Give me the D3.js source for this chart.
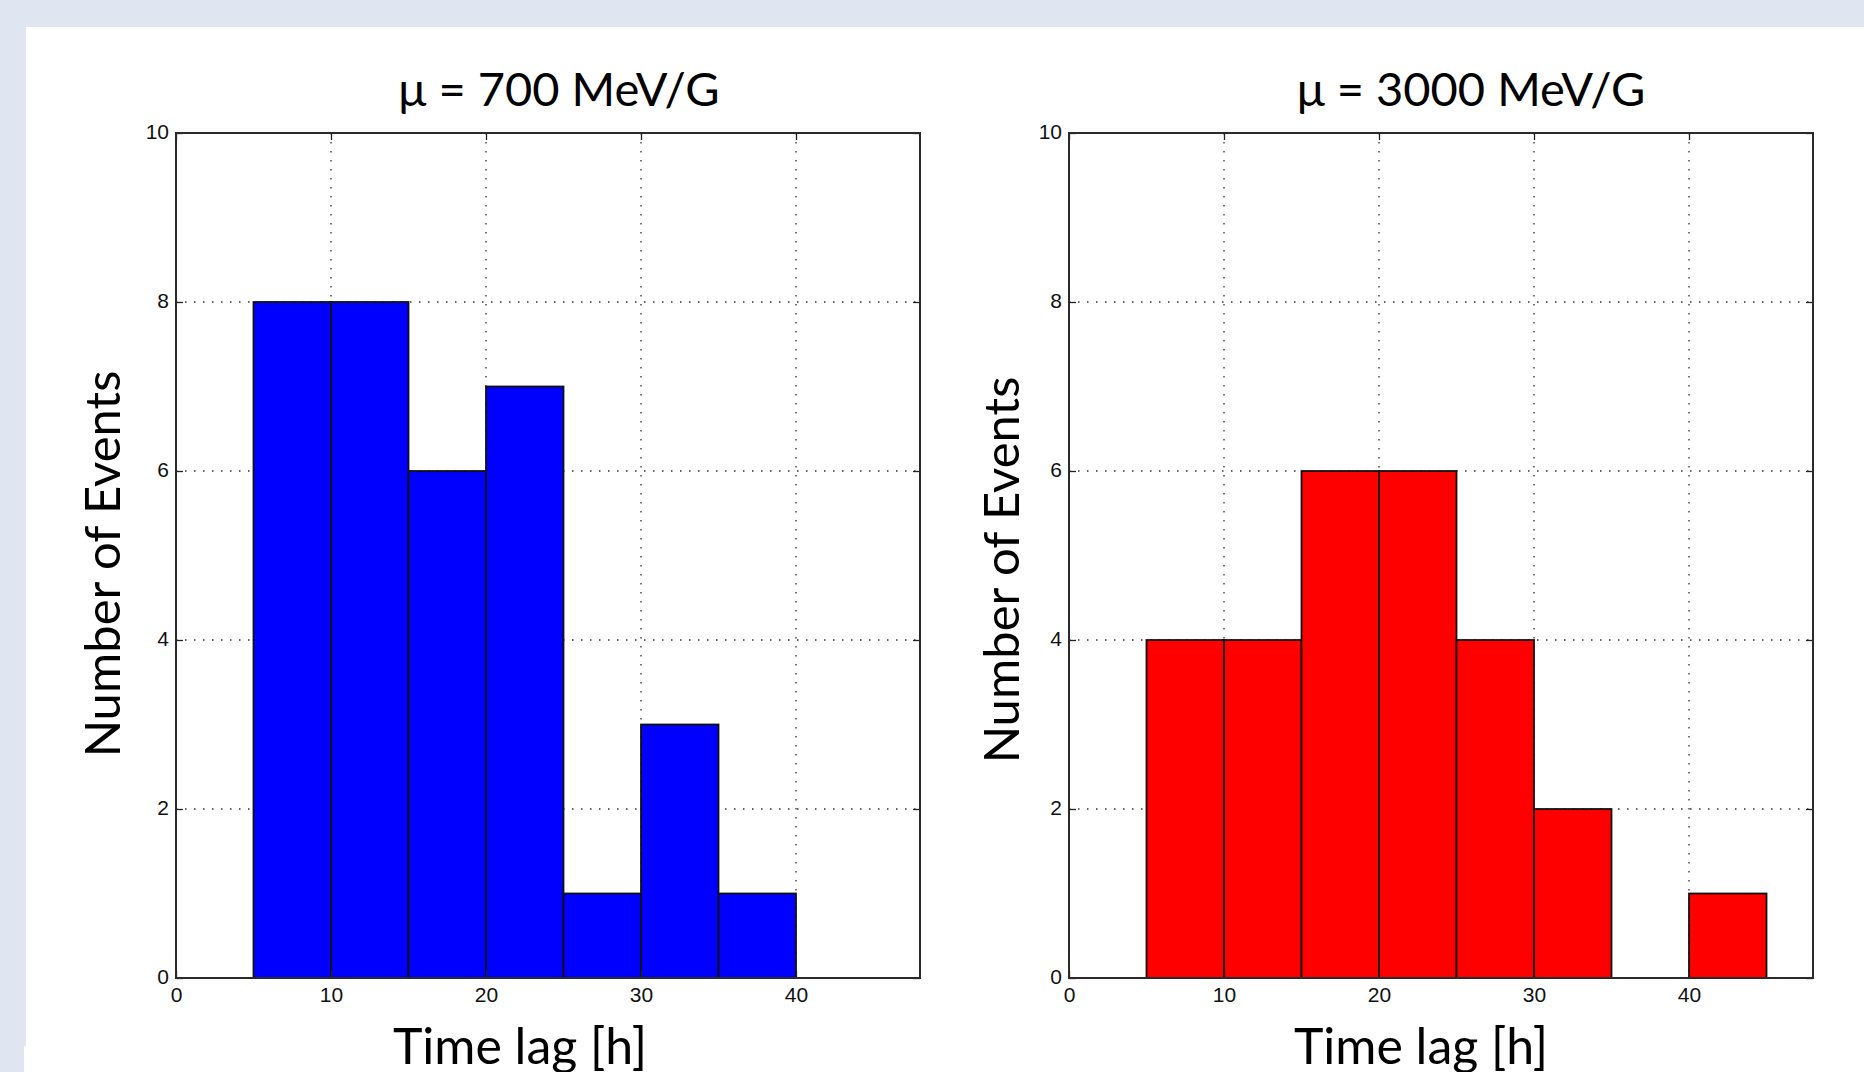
<!DOCTYPE html>
<html>
<head>
<meta charset="utf-8">
<script src="https://cdn.jsdelivr.net/npm/d3@7"></script>
<style>
  html, body { margin: 0; padding: 0; background: #dfe6f2; }
  svg { display: block; }
</style>
</head>
<body>
<div id="chart"></div>
<script>
// histogram bins (hours) and counts per panel
const binEdges = [5, 10, 15, 20, 25, 30, 35, 40, 45];
const counts700 = [8, 8, 6, 7, 1, 3, 1, 0];
const counts3000 = [4, 4, 6, 6, 4, 2, 0, 1];
const xTicks = [0, 10, 20, 30, 40];
const yTicks = [0, 2, 4, 6, 8, 10];
const panelTitles = ["\u03bc = 700 MeV/G", "\u03bc = 3000 MeV/G"];
const panelColors = ["#0000ff", "#ff0000"];

const W = 1864, H = 1072;
const labelFont = "Lato, 'Open Sans', sans-serif";
const tickFont = "'Liberation Sans', Arial, sans-serif";

const svg = d3.select("#chart").append("svg")
  .attr("width", W).attr("height", H);

// page panel
svg.append("rect").attr("x", 26).attr("y", 27).attr("width", W - 26).attr("height", H - 27).attr("fill", "#fff");
svg.append("rect").attr("x", 24).attr("y", 1046).attr("width", 10).attr("height", H - 1046).attr("fill", "#fff");

const panels = [
  { left: 176, right: 920, counts: counts700, titleX: 559, ylabX: 120, ylabY: 564, xlabX: 520 },
  { left: 1069, right: 1813, counts: counts3000, titleX: 1471, ylabX: 1019, ylabY: 570, xlabX: 1421 }
];
const plotTop = 133, plotBottom = 978;

panels.forEach((p, idx) => {
  const x = d3.scaleLinear().domain([0, 48]).range([p.left, p.right]);
  const y = d3.scaleLinear().domain([0, 10]).range([plotBottom, plotTop]);
  const g = svg.append("g");

  // grid (below bars)
  g.selectAll(".vgrid").data(xTicks.filter(t => t > 0)).enter().append("line")
    .attr("x1", d => x(d)).attr("x2", d => x(d))
    .attr("y1", plotTop).attr("y2", plotBottom)
    .attr("stroke", "#333").attr("stroke-width", 1.3).attr("stroke-dasharray", "1.5,7.5");
  g.selectAll(".hgrid").data(yTicks.filter(t => t > 0 && t < 10)).enter().append("line")
    .attr("y1", d => y(d)).attr("y2", d => y(d))
    .attr("x1", p.left).attr("x2", p.right)
    .attr("stroke", "#333").attr("stroke-width", 1.3).attr("stroke-dasharray", "1.5,7.5");

  // bars
  g.selectAll(".bar").data(p.counts).enter().append("rect")
    .attr("x", (d, i) => x(binEdges[i]))
    .attr("width", (d, i) => x(binEdges[i + 1]) - x(binEdges[i]))
    .attr("y", d => y(d))
    .attr("height", d => y(0) - y(d))
    .attr("fill", panelColors[idx])
    .attr("stroke", "#111").attr("stroke-width", 1.8);

  // axes with inward ticks
  g.append("g").attr("transform", `translate(0,${plotBottom})`)
    .call(d3.axisBottom(x).tickValues(xTicks).tickSize(-7).tickPadding(9));
  const ay = g.append("g").attr("transform", `translate(${p.left},0)`)
    .call(d3.axisLeft(y).tickValues(yTicks).tickSize(-7).tickPadding(7));
  g.append("g").attr("transform", `translate(0,${plotTop})`)
    .call(d3.axisTop(x).tickValues(xTicks).tickSize(-7).tickFormat(""));
  g.append("g").attr("transform", `translate(${p.right},0)`)
    .call(d3.axisRight(y).tickValues(yTicks).tickSize(-7).tickFormat(""));
  g.selectAll(".domain").remove();
  g.selectAll(".tick line").attr("stroke", "#222").attr("stroke-width", 1.3);
  g.selectAll(".tick text").attr("font-family", tickFont).attr("font-size", 21).attr("fill", "#111");
  ay.selectAll(".tick text").attr("dy", "0.25em");

  // frame
  g.append("rect")
    .attr("x", p.left).attr("y", plotTop)
    .attr("width", p.right - p.left).attr("height", plotBottom - plotTop)
    .attr("fill", "none").attr("stroke", "#2a2a2a").attr("stroke-width", 2);

  // labels
  svg.append("text").attr("x", p.titleX).attr("y", 106)
    .attr("text-anchor", "middle").attr("font-family", labelFont).attr("font-size", 47)
    .text(panelTitles[idx]);
  svg.append("text")
    .attr("transform", `translate(${p.ylabX},${p.ylabY}) rotate(-90)`)
    .attr("text-anchor", "middle").attr("font-family", labelFont).attr("font-size", 49)
    .text("Number of Events");
  svg.append("text").attr("x", p.xlabX).attr("y", 1064)
    .attr("text-anchor", "middle").attr("font-family", labelFont).attr("font-size", 50)
    .text("Time lag [h]");
});
</script>
</body>
</html>
